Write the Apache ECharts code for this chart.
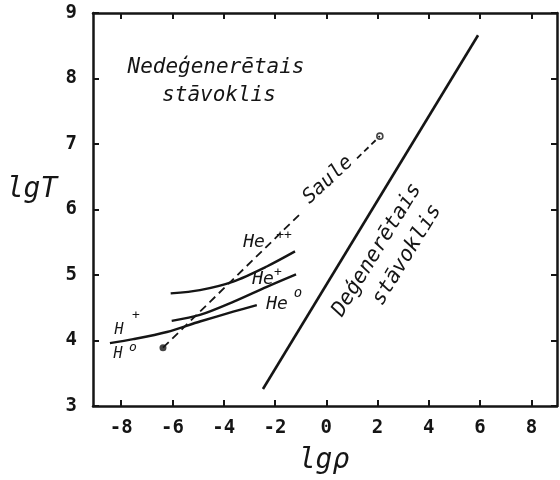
<!DOCTYPE html>
<html>
<head>
<meta charset="utf-8">
<script src="https://cdn.jsdelivr.net/npm/echarts@6/dist/echarts.min.js"></script>
<style>html,body{margin:0;padding:0;background:#fff}#c{width:560px;height:480px}</style>
</head>
<body>
<div id="c"></div>
<script>
// tick labels
const xTicks = [-8, -6, -4, -2, 0, 2, 4, 6, 8];
const yTicks = [3, 4, 5, 6, 7, 8, 9];
// boundary of degenerate state (straight line)
const degenX = [-2.47, 5.92];
const degenY = [3.26, 8.66];
// He++ / He+ boundary
const heppX = [-6.07, -4.93, -3.63, -2.32, -1.22];
const heppY = [4.72, 4.77, 4.90, 5.13, 5.36];
// He+ / He0 boundary
const hepX = [-6.03, -4.93, -3.63, -2.32, -1.18];
const hepY = [4.30, 4.39, 4.59, 4.82, 5.01];
// H+ / H0 boundary
const hX = [-8.44, -7.53, -6.22, -4.93, -3.63, -2.71];
const hY = [3.96, 4.02, 4.13, 4.29, 4.44, 4.54];
// Sun track (dashed), broken where the label sits
const sunAX = [-6.37, -1.0];
const sunAY = [3.89, 5.94];
const sunBX = [1.2, 2.09];
const sunBY = [6.78, 7.12];

const zip = (a, b) => a.map((v, i) => [v, b[i]]);

const FONT = '"DejaVu Sans Mono", monospace';
const INK = '#151515';

function txt(text, x, y, size, rot, extra) {
  return Object.assign({
    type: 'text', x: x, y: y, rotation: (rot || 0) * Math.PI / 180,
    style: {
      text: text, fontFamily: FONT, fontSize: size, fontStyle: 'italic',
      fill: INK, align: 'center', verticalAlign: 'middle'
    }
  }, extra || {});
}

const chart = echarts.init(document.getElementById('c'), null, { renderer: 'canvas' });
const axisLine = { show: true, onZero: false, lineStyle: { color: INK, width: 2.5 } };
const tickStyle = { color: INK, width: 2 };
const curve = { type: 'line', symbol: 'none', smooth: 0.3, lineStyle: { color: INK, width: 2.4 } };
chart.setOption({
  animation: false,
  backgroundColor: '#fff',
  grid: { left: 93, right: 3, top: 13, bottom: 74 },
  xAxis: [
    {
      type: 'value', min: -9.1, max: 9.0, position: 'bottom',
      axisLine: axisLine,
      axisTick: { show: true, inside: true, length: 6, customValues: xTicks, lineStyle: tickStyle },
      axisLabel: {
        customValues: xTicks, margin: 13, fontFamily: FONT, fontSize: 19, fontWeight: 'bold',
        color: INK, formatter: v => (v < 0 ? '-' + Math.abs(v) : String(v))
      },
      splitLine: { show: false }
    },
    {
      type: 'value', min: -9.1, max: 9.0, position: 'top',
      axisLine: axisLine,
      axisTick: { show: true, inside: true, length: 6, customValues: xTicks, lineStyle: tickStyle },
      axisLabel: { show: false },
      splitLine: { show: false }
    }
  ],
  yAxis: [
    {
      type: 'value', min: 3, max: 9, interval: 1, position: 'left',
      axisLine: axisLine,
      axisTick: { show: true, inside: true, length: 6, customValues: yTicks, lineStyle: tickStyle },
      axisLabel: { customValues: yTicks, margin: 16, fontFamily: FONT, fontSize: 19, fontWeight: 'bold', color: INK },
      splitLine: { show: false }
    },
    {
      type: 'value', min: 3, max: 9, interval: 1, position: 'right',
      axisLine: axisLine,
      axisTick: { show: true, inside: true, length: 6, customValues: yTicks, lineStyle: tickStyle },
      axisLabel: { show: false },
      splitLine: { show: false }
    }
  ],
  series: [
    { type: 'line', data: zip(degenX, degenY), symbol: 'none', lineStyle: { color: INK, width: 2.6 } },
    Object.assign({ data: zip(heppX, heppY) }, curve),
    Object.assign({ data: zip(hepX, hepY) }, curve),
    Object.assign({ data: zip(hX, hY) }, curve),
    { type: 'line', data: zip(sunAX, sunAY), symbol: 'none', lineStyle: { color: INK, width: 1.8, type: [8, 5] } },
    { type: 'line', data: zip(sunBX, sunBY), symbol: 'none', lineStyle: { color: INK, width: 1.8, type: [6, 4] } },
    { type: 'scatter', data: [[sunAX[0], sunAY[0]]], symbol: 'circle', symbolSize: 7, itemStyle: { color: INK } },
    { type: 'scatter', data: [[sunBX[1], sunBY[1]]], symbol: 'circle', symbolSize: 6,
      itemStyle: { color: '#fff', borderColor: INK, borderWidth: 1.6 } }
  ],
  graphic: [
    txt('Nedeģenerētais', 216, 68, 21, 0),
    txt('stāvoklis', 219, 96, 21, 0),
    txt('Deģenerētais', 377, 250, 21, 58.5),
    txt('stāvoklis', 407, 255, 21, 58.5),
    txt('Saule', 328, 180, 20, 43),
    txt('lgT', 32, 190, 28, 0),
    txt('lgρ', 324, 461, 28, 0),
    txt('He', 254, 242, 18, 0),
    txt('++', 284, 236, 13, 0),
    txt('He', 263, 279, 18, 0),
    txt('+', 278, 273, 13, 0),
    txt('He', 277, 304, 18, 0),
    txt('o', 298, 293, 14, 0),
    txt('H', 119, 330, 15, 0),
    txt('+', 136, 316, 13, 0),
    txt('H', 118, 354, 15, 0),
    txt('o', 133, 348, 13, 0)
  ]
});
</script>
</body>
</html>
